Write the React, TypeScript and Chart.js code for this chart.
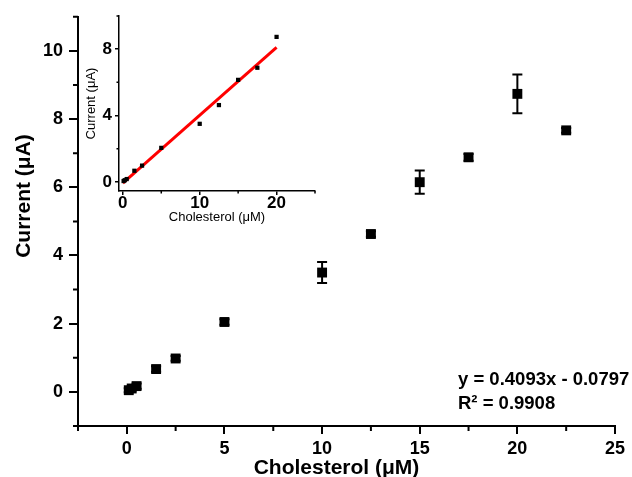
import React, { useEffect, useRef } from 'react';
import { Chart, registerables } from 'chart.js';

Chart.register(...registerables);

const FONT = "'Liberation Sans', Arial, Helvetica, sans-serif";

// Data
const concentrations = [0.1, 0.25, 0.5, 1.5, 2.5, 5, 10, 12.5, 15, 17.5, 20, 22.5];
const currents = [0.05, 0.1, 0.17, 0.67, 0.98, 2.05, 3.5, 4.63, 6.15, 6.88, 8.74, 7.67];
const currentErrors = [0.06, 0.06, 0.08, 0.08, 0.07, 0.08, 0.31, 0.08, 0.34, 0.1, 0.57, 0.07];
const insetPointCount = 11; // points up to 20 µM shown in the inset
const fitX = [0, 20];
const fitY = [-0.08, 8.11];

const mainXTicks = [0, 5, 10, 15, 20, 25];
const mainXMinor = [-2.5, 2.5, 7.5, 12.5, 17.5, 22.5];
const mainYTicks = [0, 2, 4, 6, 8, 10];
const mainYMinor = [-1, 1, 3, 5, 7, 9, 11];
const insetXTicks = [0, 10, 20];
const insetXMinor = [5, 15, 25];
const insetYTicks = [0, 4, 8];
const insetYMinor = [2, 6, 10];

const xTitle = 'Cholesterol (μM)';
const yTitle = 'Current (μA)';
const equationLines = ['y = 0.4093x - 0.0797', 'R² = 0.9908'];

const minorTicksPlugin = {
  id: 'minorTicks',
  afterDraw(chart: any, _args: any, opts: any) {
    const { ctx } = chart;
    const xs = chart.scales.x;
    const ys = chart.scales.y;
    ctx.save();
    ctx.strokeStyle = '#000';
    ctx.lineWidth = opts.width;
    ctx.beginPath();
    (opts.x || []).forEach((v: number) => {
      const px = xs.getPixelForValue(v);
      ctx.moveTo(px, xs.top);
      ctx.lineTo(px, xs.top + opts.len);
    });
    (opts.y || []).forEach((v: number) => {
      const py = ys.getPixelForValue(v);
      ctx.moveTo(ys.right, py);
      ctx.lineTo(ys.right - opts.len, py);
    });
    ctx.stroke();
    ctx.restore();
  },
};

const errorBarPlugin = {
  id: 'errorBars',
  afterDatasetsDraw(chart: any) {
    const { ctx } = chart;
    const x = chart.scales.x;
    const y = chart.scales.y;
    ctx.save();
    ctx.strokeStyle = '#000';
    ctx.lineWidth = 2;
    concentrations.forEach((c, i) => {
      const e = currentErrors[i];
      const px = x.getPixelForValue(c);
      const top = y.getPixelForValue(currents[i] + e);
      const bot = y.getPixelForValue(currents[i] - e);
      ctx.beginPath();
      ctx.moveTo(px, top);
      ctx.lineTo(px, bot);
      ctx.moveTo(px - 5, top);
      ctx.lineTo(px + 5, top);
      ctx.moveTo(px - 5, bot);
      ctx.lineTo(px + 5, bot);
      ctx.stroke();
    });
    ctx.restore();
  },
};

const annotationPlugin = {
  id: 'annotations',
  afterDraw(chart: any) {
    const { ctx } = chart;
    ctx.save();
    ctx.fillStyle = '#000';
    // equation
    ctx.font = `bold 18.5px ${FONT}`;
    ctx.textBaseline = 'alphabetic';
    ctx.textAlign = 'left';
    equationLines.forEach((t, i) => ctx.fillText(t, 458, 385 + i * 23.5));
    // axis titles
    ctx.font = `bold 21px ${FONT}`;
    ctx.textAlign = 'center';
    ctx.fillText(xTitle, 336.5, 474);
    ctx.translate(30, 196);
    ctx.rotate(-Math.PI / 2);
    ctx.fillText(yTitle, 0, 0);
    ctx.restore();
  },
};

export default function App() {
  const mainRef = useRef<HTMLCanvasElement>(null);
  const insetRef = useRef<HTMLCanvasElement>(null);

  useEffect(() => {
    if (!mainRef.current || !insetRef.current) return;

    const mainPoints = concentrations.map((c, i) => ({ x: c, y: currents[i] }));
    const insetPoints = mainPoints.slice(0, insetPointCount);
    const fitPoints = fitX.map((v, i) => ({ x: v, y: fitY[i] }));

    const main = new Chart(mainRef.current, {
      type: 'scatter',
      data: {
        datasets: [
          {
            data: mainPoints,
            pointStyle: 'rect',
            pointRadius: 7,
            pointHoverRadius: 7,
            backgroundColor: '#000',
            borderColor: '#000',
            borderWidth: 0,
            clip: false,
          } as any,
        ],
      },
      options: {
        animation: false,
        responsive: false,
        events: [],
        layout: { padding: { top: 15, right: 17, left: 0, bottom: 0 } },
        plugins: {
          legend: { display: false },
          tooltip: { enabled: false },
          minorTicks: { x: mainXMinor, y: mainYMinor, len: 5, width: 2 },
        } as any,
        scales: {
          x: {
            type: 'linear',
            min: -2.5,
            max: 25,
            afterFit: (s: any) => { s.height = 51; },
            afterBuildTicks: (s: any) => { s.ticks = mainXTicks.map((v) => ({ value: v })); },
            border: { display: true, color: '#000', width: 2 },
            grid: { display: true, drawOnChartArea: false, drawTicks: true, tickLength: 8, color: '#000', lineWidth: 2 },
            ticks: { color: '#000', padding: 4, font: { family: FONT, size: 18, weight: 'bold' }, maxRotation: 0 },
            title: { display: false },
          },
          y: {
            type: 'linear',
            min: -1,
            max: 11,
            afterFit: (s: any) => { s.width = 78; },
            afterBuildTicks: (s: any) => { s.ticks = mainYTicks.map((v) => ({ value: v })); },
            border: { display: true, color: '#000', width: 2 },
            grid: { display: true, drawOnChartArea: false, drawTicks: true, tickLength: 9, color: '#000', lineWidth: 2 },
            ticks: { color: '#000', padding: 6, font: { family: FONT, size: 18, weight: 'bold' } },
            title: { display: false },
          },
        },
      } as any,
      plugins: [minorTicksPlugin, errorBarPlugin, annotationPlugin] as any,
    });

    const inset = new Chart(insetRef.current, {
      type: 'scatter',
      data: {
        datasets: [
          {
            data: insetPoints,
            pointStyle: 'rect',
            pointRadius: 3,
            pointHoverRadius: 3,
            backgroundColor: '#000',
            borderColor: '#000',
            borderWidth: 0,
            clip: false,
          } as any,
          {
            type: 'line',
            data: fitPoints,
            borderColor: '#ff0000',
            borderWidth: 3,
            pointRadius: 0,
            showLine: true,
            fill: false,
            clip: false,
          } as any,
        ],
      },
      options: {
        animation: false,
        responsive: false,
        events: [],
        layout: { padding: { top: 16, right: 15, left: 0, bottom: 0 } },
        plugins: {
          legend: { display: false },
          tooltip: { enabled: false },
          minorTicks: { x: insetXMinor, y: insetYMinor, len: 2.5, width: 1.5 },
        } as any,
        scales: {
          x: {
            type: 'linear',
            min: -0.5,
            max: 25,
            afterFit: (s: any) => { s.height = 41; },
            afterBuildTicks: (s: any) => { s.ticks = insetXTicks.map((v) => ({ value: v })); },
            border: { display: true, color: '#000', width: 1.5 },
            grid: { display: true, drawOnChartArea: false, drawTicks: true, tickLength: 4, color: '#000', lineWidth: 1.5 },
            ticks: { color: '#000', padding: -2, font: { family: FONT, size: 17, weight: 'bold' }, maxRotation: 0 },
            title: { display: true, text: xTitle, color: '#000', padding: { top: 0, bottom: 7 }, font: { family: FONT, size: 13 } },
          },
          y: {
            type: 'linear',
            min: -0.55,
            max: 10,
            afterFit: (s: any) => { s.width = 59; },
            afterBuildTicks: (s: any) => { s.ticks = insetYTicks.map((v) => ({ value: v })); },
            border: { display: true, color: '#000', width: 1.5 },
            grid: { display: true, drawOnChartArea: false, drawTicks: true, tickLength: 4, color: '#000', lineWidth: 1.5 },
            ticks: { color: '#000', padding: 3, font: { family: FONT, size: 17, weight: 'bold' } },
            title: { display: true, text: yTitle, color: '#000', padding: { top: 24, bottom: 0 }, font: { family: FONT, size: 13 } },
          },
        },
      } as any,
      plugins: [minorTicksPlugin] as any,
    });

    return () => {
      main.destroy();
      inset.destroy();
    };
  }, []);

  return (
    <div style={{ position: 'absolute', left: 0, top: 0, width: 632, height: 477, background: '#fff' }}>
      <canvas ref={mainRef} width={632} height={477} style={{ position: 'absolute', left: 0, top: 0 }} />
      <canvas ref={insetRef} width={270} height={232} style={{ position: 'absolute', left: 60, top: 0 }} />
    </div>
  );
}
